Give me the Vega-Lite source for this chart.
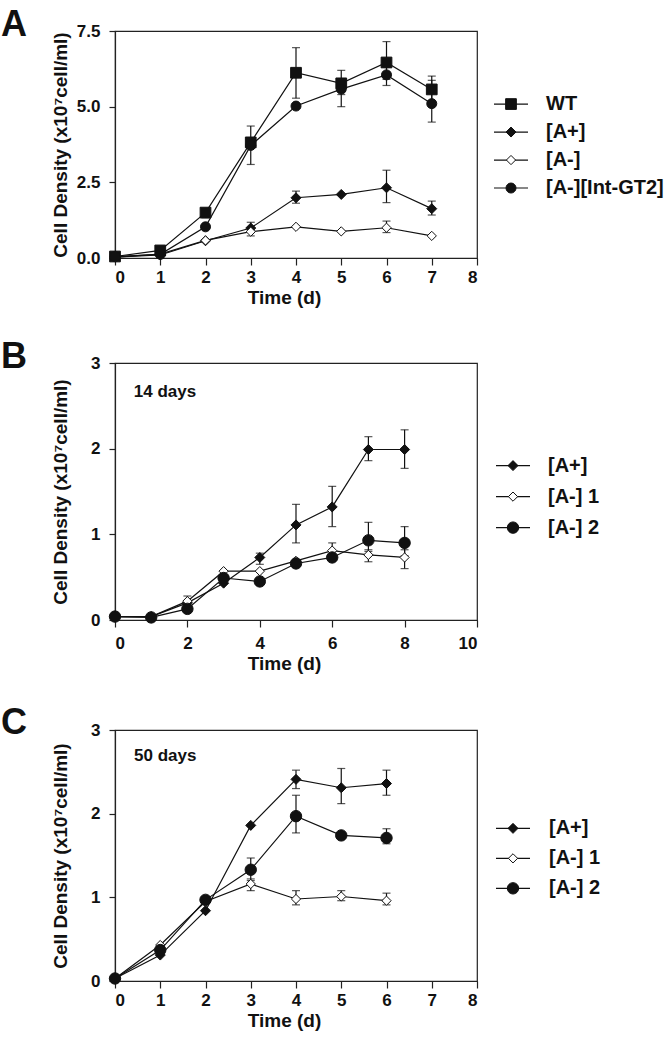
{
  "$schema": "https://vega.github.io/schema/vega-lite/v6.json",
  "background": "white",
  "padding": {"left": 0, "top": 6, "right": 0, "bottom": 0},
  "datasets": {
    "pts": [
      {"p":"A","s":"WT","d":0,"v":0.05},{"p":"A","s":"WT","d":1,"v":0.25},{"p":"A","s":"WT","d":2,"v":1.5},{"p":"A","s":"WT","d":3,"v":3.82},{"p":"A","s":"WT","d":4,"v":6.12},{"p":"A","s":"WT","d":5,"v":5.77},{"p":"A","s":"WT","d":6,"v":6.46},{"p":"A","s":"WT","d":7,"v":5.57},
      {"p":"A","s":"[A+]","d":0,"v":0.03},{"p":"A","s":"[A+]","d":1,"v":0.1},{"p":"A","s":"[A+]","d":2,"v":0.57},{"p":"A","s":"[A+]","d":3,"v":0.99},{"p":"A","s":"[A+]","d":4,"v":1.99},{"p":"A","s":"[A+]","d":5,"v":2.1},{"p":"A","s":"[A+]","d":6,"v":2.32},{"p":"A","s":"[A+]","d":7,"v":1.63},
      {"p":"A","s":"[A-]","d":0,"v":0.03},{"p":"A","s":"[A-]","d":1,"v":0.13},{"p":"A","s":"[A-]","d":2,"v":0.58},{"p":"A","s":"[A-]","d":3,"v":0.87},{"p":"A","s":"[A-]","d":4,"v":1.03},{"p":"A","s":"[A-]","d":5,"v":0.88},{"p":"A","s":"[A-]","d":6,"v":1.0},{"p":"A","s":"[A-]","d":7,"v":0.73},
      {"p":"A","s":"[A-][Int-GT2]","d":0,"v":0.05},{"p":"A","s":"[A-][Int-GT2]","d":1,"v":0.12},{"p":"A","s":"[A-][Int-GT2]","d":2,"v":1.03},{"p":"A","s":"[A-][Int-GT2]","d":3,"v":3.72},{"p":"A","s":"[A-][Int-GT2]","d":4,"v":5.02},{"p":"A","s":"[A-][Int-GT2]","d":5,"v":5.58},{"p":"A","s":"[A-][Int-GT2]","d":6,"v":6.05},{"p":"A","s":"[A-][Int-GT2]","d":7,"v":5.1},
      {"p":"B","s":"[A+]","d":0,"v":0.04},{"p":"B","s":"[A+]","d":1,"v":0.04},{"p":"B","s":"[A+]","d":2,"v":0.2},{"p":"B","s":"[A+]","d":3,"v":0.43},{"p":"B","s":"[A+]","d":4,"v":0.73},{"p":"B","s":"[A+]","d":5,"v":1.11},{"p":"B","s":"[A+]","d":6,"v":1.32},{"p":"B","s":"[A+]","d":7,"v":1.99},{"p":"B","s":"[A+]","d":8,"v":1.99},
      {"p":"B","s":"[A-] 1","d":0,"v":0.04},{"p":"B","s":"[A-] 1","d":1,"v":0.04},{"p":"B","s":"[A-] 1","d":2,"v":0.22},{"p":"B","s":"[A-] 1","d":3,"v":0.57},{"p":"B","s":"[A-] 1","d":4,"v":0.57},{"p":"B","s":"[A-] 1","d":5,"v":0.69},{"p":"B","s":"[A-] 1","d":6,"v":0.81},{"p":"B","s":"[A-] 1","d":7,"v":0.76},{"p":"B","s":"[A-] 1","d":8,"v":0.73},
      {"p":"B","s":"[A-] 2","d":0,"v":0.04},{"p":"B","s":"[A-] 2","d":1,"v":0.03},{"p":"B","s":"[A-] 2","d":2,"v":0.13},{"p":"B","s":"[A-] 2","d":3,"v":0.49},{"p":"B","s":"[A-] 2","d":4,"v":0.45},{"p":"B","s":"[A-] 2","d":5,"v":0.66},{"p":"B","s":"[A-] 2","d":6,"v":0.73},{"p":"B","s":"[A-] 2","d":7,"v":0.93},{"p":"B","s":"[A-] 2","d":8,"v":0.9},
      {"p":"C","s":"[A+]","d":0,"v":0.03},{"p":"C","s":"[A+]","d":1,"v":0.31},{"p":"C","s":"[A+]","d":2,"v":0.84},{"p":"C","s":"[A+]","d":3,"v":1.86},{"p":"C","s":"[A+]","d":4,"v":2.41},{"p":"C","s":"[A+]","d":5,"v":2.31},{"p":"C","s":"[A+]","d":6,"v":2.36},
      {"p":"C","s":"[A-] 1","d":0,"v":0.03},{"p":"C","s":"[A-] 1","d":1,"v":0.43},{"p":"C","s":"[A-] 1","d":2,"v":0.95},{"p":"C","s":"[A-] 1","d":3,"v":1.16},{"p":"C","s":"[A-] 1","d":4,"v":0.98},{"p":"C","s":"[A-] 1","d":5,"v":1.01},{"p":"C","s":"[A-] 1","d":6,"v":0.96},
      {"p":"C","s":"[A-] 2","d":0,"v":0.03},{"p":"C","s":"[A-] 2","d":1,"v":0.37},{"p":"C","s":"[A-] 2","d":2,"v":0.97},{"p":"C","s":"[A-] 2","d":3,"v":1.33},{"p":"C","s":"[A-] 2","d":4,"v":1.97},{"p":"C","s":"[A-] 2","d":5,"v":1.74},{"p":"C","s":"[A-] 2","d":6,"v":1.71}
    ],
    "err": [
      {"p":"A","s":"WT","d":2,"lo":1.33,"hi":1.6},{"p":"A","s":"WT","d":3,"lo":3.09,"hi":4.36},{"p":"A","s":"WT","d":4,"lo":5.28,"hi":6.95},{"p":"A","s":"WT","d":5,"lo":5.4,"hi":6.2},{"p":"A","s":"WT","d":6,"lo":5.9,"hi":7.15},{"p":"A","s":"WT","d":7,"lo":5.2,"hi":6.01},
      {"p":"A","s":"[A-][Int-GT2]","d":5,"lo":5.0,"hi":5.8},{"p":"A","s":"[A-][Int-GT2]","d":6,"lo":5.7,"hi":6.3},{"p":"A","s":"[A-][Int-GT2]","d":7,"lo":4.49,"hi":5.87},
      {"p":"A","s":"[A+]","d":3,"lo":0.85,"hi":1.18},{"p":"A","s":"[A+]","d":4,"lo":1.81,"hi":2.21},{"p":"A","s":"[A+]","d":6,"lo":1.83,"hi":2.9},{"p":"A","s":"[A+]","d":7,"lo":1.42,"hi":1.88},
      {"p":"A","s":"[A-]","d":3,"lo":0.73,"hi":0.95},{"p":"A","s":"[A-]","d":6,"lo":0.84,"hi":1.22},
      {"p":"B","s":"[A+]","d":4,"lo":0.65,"hi":0.78},{"p":"B","s":"[A+]","d":5,"lo":0.9,"hi":1.35},{"p":"B","s":"[A+]","d":6,"lo":1.09,"hi":1.56},{"p":"B","s":"[A+]","d":7,"lo":1.86,"hi":2.14},{"p":"B","s":"[A+]","d":8,"lo":1.77,"hi":2.22},
      {"p":"B","s":"[A-] 1","d":2,"lo":0.15,"hi":0.28},{"p":"B","s":"[A-] 1","d":6,"lo":0.74,"hi":0.9},{"p":"B","s":"[A-] 1","d":7,"lo":0.68,"hi":0.82},{"p":"B","s":"[A-] 1","d":8,"lo":0.6,"hi":0.82},
      {"p":"B","s":"[A-] 2","d":7,"lo":0.8,"hi":1.14},{"p":"B","s":"[A-] 2","d":8,"lo":0.75,"hi":1.09},
      {"p":"C","s":"[A+]","d":4,"lo":2.3,"hi":2.52},{"p":"C","s":"[A+]","d":5,"lo":2.12,"hi":2.54},{"p":"C","s":"[A+]","d":6,"lo":2.22,"hi":2.52},
      {"p":"C","s":"[A-] 2","d":3,"lo":1.2,"hi":1.47},{"p":"C","s":"[A-] 2","d":4,"lo":1.77,"hi":2.22},{"p":"C","s":"[A-] 2","d":6,"lo":1.64,"hi":1.82},
      {"p":"C","s":"[A-] 1","d":3,"lo":1.08,"hi":1.22},{"p":"C","s":"[A-] 1","d":4,"lo":0.91,"hi":1.08},{"p":"C","s":"[A-] 1","d":5,"lo":0.96,"hi":1.08},{"p":"C","s":"[A-] 1","d":6,"lo":0.91,"hi":1.05}
    ],
    "leg": [
      {"p":"A","s":"WT","o":0},{"p":"A","s":"[A+]","o":1},{"p":"A","s":"[A-]","o":2},{"p":"A","s":"[A-][Int-GT2]","o":3},
      {"p":"B","s":"[A+]","o":0},{"p":"B","s":"[A-] 1","o":1},{"p":"B","s":"[A-] 2","o":2},
      {"p":"C","s":"[A+]","o":0},{"p":"C","s":"[A-] 1","o":1},{"p":"C","s":"[A-] 2","o":2}
    ]
  },
  "config": {
    "font": "Liberation Sans",
    "view": {"stroke": "#222", "strokeWidth": 1.2},
    "axis": {"domainColor": "#222", "domainWidth": 1.2, "tickColor": "#222", "tickWidth": 1.2, "grid": false,
      "labelFont": "Liberation Sans", "labelFontSize": 17, "labelFontWeight": "bold", "labelColor": "#111",
      "titleFont": "Liberation Sans", "titleFontSize": 19, "titleFontWeight": "bold", "titleColor": "#111"},
    "axisX": {"tickSize": 7, "labelPadding": 4, "titlePadding": 3, "titleX": 169, "titleAlign": "center"},
    "axisY": {"tickSize": 6, "labelPadding": 9},
    "title": {"anchor": "start", "frame": "group", "fontSize": 36, "fontWeight": "bold", "font": "Liberation Sans", "color": "#111", "dx": -114, "offset": -22, "baseline": "alphabetic"}
  },
  "vconcat": [
    {
      "hconcat": [
        {
          "width": 362, "height": 227,
          "title": {"text": "A"},
          "layer": [
            {"data": {"name": "pts"}, "transform": [{"filter": "datum.p==='A'"}],
             "mark": {"type": "line", "color": "#111", "strokeWidth": 1.2},
             "encoding": {"x": {"field": "d", "type": "quantitative", "title": "Time (d)", "scale": {"domain": [0, 8], "nice": false}, "axis": {"values": [0,1,2,3,4,5,6,7,8]}},
               "y": {"field": "v", "type": "quantitative", "title": "Cell Density (x10⁷cell/ml)", "scale": {"domain": [0, 7.5], "nice": false}, "axis": {"values": [0, 2.5, 5, 7.5], "format": ".1f", "titlePadding": 6}},
               "detail": {"field": "s"}}},
            {"data": {"name": "err"}, "transform": [{"filter": "datum.p==='A'"}],
             "mark": {"type": "rule", "color": "#111", "strokeWidth": 1.2},
             "encoding": {"x": {"field": "d", "type": "quantitative"}, "y": {"field": "lo", "type": "quantitative"}, "y2": {"field": "hi"}}},
            {"data": {"name": "err"}, "transform": [{"filter": "datum.p==='A'"}],
             "mark": {"type": "tick", "orient": "horizontal", "color": "#111", "size": 8, "thickness": 1.2},
             "encoding": {"x": {"field": "d", "type": "quantitative"}, "y": {"field": "lo", "type": "quantitative"}}},
            {"data": {"name": "err"}, "transform": [{"filter": "datum.p==='A'"}],
             "mark": {"type": "tick", "orient": "horizontal", "color": "#111", "size": 8, "thickness": 1.2},
             "encoding": {"x": {"field": "d", "type": "quantitative"}, "y": {"field": "hi", "type": "quantitative"}}},
            {"data": {"name": "pts"}, "transform": [{"filter": "datum.p==='A'"}],
             "mark": {"type": "point", "filled": true, "stroke": "#111", "strokeWidth": 1, "opacity": 1},
             "encoding": {"x": {"field": "d", "type": "quantitative"}, "y": {"field": "v", "type": "quantitative"},
               "shape": {"field": "s", "type": "nominal", "legend": null, "scale": {"domain": ["WT","[A+]","[A-]","[A-][Int-GT2]","[A-] 1","[A-] 2"], "range": ["square","diamond","diamond","circle","diamond","circle"]}},
               "fill": {"condition": {"test": "datum.s==='[A-]' || datum.s==='[A-] 1'", "value": "white"}, "value": "#111"},
               "size": {"condition": [{"test": "datum.s==='WT'", "value": 115}, {"test": "datum.s==='[A-] 2'", "value": 130}, {"test": "datum.s==='[A-]' || datum.s==='[A-] 1'", "value": 85}], "value": 100}}}
          ]
        },
        {
          "width": 160, "height": 227, "view": {"stroke": null},
          "data": {"name": "leg"}, "transform": [{"filter": "datum.p==='A'"}],
          "layer": [
            {"mark": {"type": "rule", "color": "#111", "strokeWidth": 1.2},
             "encoding": {"x": {"datum": 1, "type": "quantitative", "scale": {"domain": [0, 160], "nice": false}, "axis": null}, "x2": {"datum": 35},
               "y": {"field": "o", "type": "quantitative", "axis": null, "scale": {"domain": [-2.61, 5.5], "nice": false, "zero": false, "reverse": true}}}},
            {"mark": {"type": "point", "filled": true, "stroke": "#111", "strokeWidth": 1, "opacity": 1},
             "encoding": {"x": {"datum": 18, "type": "quantitative"}, "y": {"field": "o", "type": "quantitative"},
               "shape": {"field": "s", "type": "nominal", "legend": null, "scale": {"domain": ["WT","[A+]","[A-]","[A-][Int-GT2]","[A-] 1","[A-] 2"], "range": ["square","diamond","diamond","circle","diamond","circle"]}},
               "fill": {"condition": {"test": "datum.s==='[A-]' || datum.s==='[A-] 1'", "value": "white"}, "value": "#111"},
               "size": {"condition": [{"test": "datum.s==='WT'", "value": 115}, {"test": "datum.s==='[A-] 2'", "value": 130}, {"test": "datum.s==='[A-]' || datum.s==='[A-] 1'", "value": 85}], "value": 100}}},
            {"mark": {"type": "text", "align": "left", "baseline": "middle", "fontSize": 20, "fontWeight": "bold", "color": "#111"},
             "encoding": {"x": {"datum": 53, "type": "quantitative"}, "y": {"field": "o", "type": "quantitative"}, "text": {"field": "s"}}}
          ]
        }
      ],
      "bounds": "flush", "spacing": 16
    },
    {
      "hconcat": [
        {
          "width": 362, "height": 257,
          "title": {"text": "B"},
          "layer": [
            {"data": {"name": "pts"}, "transform": [{"filter": "datum.p==='B'"}],
             "mark": {"type": "line", "color": "#111", "strokeWidth": 1.2},
             "encoding": {"x": {"field": "d", "type": "quantitative", "title": "Time (d)", "scale": {"domain": [0, 10], "nice": false}, "axis": {"values": [0,2,4,6,8,10], "labelPadding": 8}},
               "y": {"field": "v", "type": "quantitative", "title": "Cell Density (x10⁷cell/ml)", "scale": {"domain": [0, 3], "nice": false}, "axis": {"values": [0,1,2,3], "format": "d", "titlePadding": 20}},
               "detail": {"field": "s"}}},
            {"data": {"name": "err"}, "transform": [{"filter": "datum.p==='B'"}],
             "mark": {"type": "rule", "color": "#111", "strokeWidth": 1.2},
             "encoding": {"x": {"field": "d", "type": "quantitative"}, "y": {"field": "lo", "type": "quantitative"}, "y2": {"field": "hi"}}},
            {"data": {"name": "err"}, "transform": [{"filter": "datum.p==='B'"}],
             "mark": {"type": "tick", "orient": "horizontal", "color": "#111", "size": 8, "thickness": 1.2},
             "encoding": {"x": {"field": "d", "type": "quantitative"}, "y": {"field": "lo", "type": "quantitative"}}},
            {"data": {"name": "err"}, "transform": [{"filter": "datum.p==='B'"}],
             "mark": {"type": "tick", "orient": "horizontal", "color": "#111", "size": 8, "thickness": 1.2},
             "encoding": {"x": {"field": "d", "type": "quantitative"}, "y": {"field": "hi", "type": "quantitative"}}},
            {"data": {"name": "pts"}, "transform": [{"filter": "datum.p==='B'"}],
             "mark": {"type": "point", "filled": true, "stroke": "#111", "strokeWidth": 1, "opacity": 1},
             "encoding": {"x": {"field": "d", "type": "quantitative"}, "y": {"field": "v", "type": "quantitative"},
               "shape": {"field": "s", "type": "nominal", "legend": null, "scale": {"domain": ["WT","[A+]","[A-]","[A-][Int-GT2]","[A-] 1","[A-] 2"], "range": ["square","diamond","diamond","circle","diamond","circle"]}},
               "fill": {"condition": {"test": "datum.s==='[A-]' || datum.s==='[A-] 1'", "value": "white"}, "value": "#111"},
               "size": {"condition": [{"test": "datum.s==='WT'", "value": 115}, {"test": "datum.s==='[A-] 2'", "value": 130}, {"test": "datum.s==='[A-]' || datum.s==='[A-] 1'", "value": 85}], "value": 100}}},
            {"data": {"values": [{"t": "14 days"}]},
             "mark": {"type": "text", "align": "left", "baseline": "middle", "fontSize": 17, "fontWeight": "bold", "color": "#111"},
             "encoding": {"x": {"datum": 0.52, "type": "quantitative"}, "y": {"datum": 2.66, "type": "quantitative"}, "text": {"field": "t"}}}
          ]
        },
        {
          "width": 160, "height": 257, "view": {"stroke": null},
          "data": {"name": "leg"}, "transform": [{"filter": "datum.p==='B'"}],
          "layer": [
            {"mark": {"type": "rule", "color": "#111", "strokeWidth": 1.2},
             "encoding": {"x": {"datum": 3, "type": "quantitative", "scale": {"domain": [0, 160], "nice": false}, "axis": null}, "x2": {"datum": 37},
               "y": {"field": "o", "type": "quantitative", "axis": null, "scale": {"domain": [-3.31, 4.98], "nice": false, "zero": false, "reverse": true}}}},
            {"mark": {"type": "point", "filled": true, "stroke": "#111", "strokeWidth": 1, "opacity": 1},
             "encoding": {"x": {"datum": 20, "type": "quantitative"}, "y": {"field": "o", "type": "quantitative"},
               "shape": {"field": "s", "type": "nominal", "legend": null, "scale": {"domain": ["WT","[A+]","[A-]","[A-][Int-GT2]","[A-] 1","[A-] 2"], "range": ["square","diamond","diamond","circle","diamond","circle"]}},
               "fill": {"condition": {"test": "datum.s==='[A-]' || datum.s==='[A-] 1'", "value": "white"}, "value": "#111"},
               "size": {"condition": [{"test": "datum.s==='WT'", "value": 115}, {"test": "datum.s==='[A-] 2'", "value": 130}, {"test": "datum.s==='[A-]' || datum.s==='[A-] 1'", "value": 85}], "value": 100}}},
            {"mark": {"type": "text", "align": "left", "baseline": "middle", "fontSize": 20, "fontWeight": "bold", "color": "#111"},
             "encoding": {"x": {"datum": 55, "type": "quantitative"}, "y": {"field": "o", "type": "quantitative"}, "text": {"field": "s"}}}
          ]
        }
      ],
      "bounds": "flush", "spacing": 16
    },
    {
      "hconcat": [
        {
          "width": 362, "height": 251,
          "title": {"text": "C", "offset": -21},
          "layer": [
            {"data": {"name": "pts"}, "transform": [{"filter": "datum.p==='C'"}],
             "mark": {"type": "line", "color": "#111", "strokeWidth": 1.2},
             "encoding": {"x": {"field": "d", "type": "quantitative", "title": "Time (d)", "scale": {"domain": [0, 8], "nice": false}, "axis": {"values": [0,1,2,3,4,5,6,7,8]}},
               "y": {"field": "v", "type": "quantitative", "title": "Cell Density (x10⁷cell/ml)", "scale": {"domain": [0, 3], "nice": false}, "axis": {"values": [0,1,2,3], "format": "d", "titlePadding": 20}},
               "detail": {"field": "s"}}},
            {"data": {"name": "err"}, "transform": [{"filter": "datum.p==='C'"}],
             "mark": {"type": "rule", "color": "#111", "strokeWidth": 1.2},
             "encoding": {"x": {"field": "d", "type": "quantitative"}, "y": {"field": "lo", "type": "quantitative"}, "y2": {"field": "hi"}}},
            {"data": {"name": "err"}, "transform": [{"filter": "datum.p==='C'"}],
             "mark": {"type": "tick", "orient": "horizontal", "color": "#111", "size": 8, "thickness": 1.2},
             "encoding": {"x": {"field": "d", "type": "quantitative"}, "y": {"field": "lo", "type": "quantitative"}}},
            {"data": {"name": "err"}, "transform": [{"filter": "datum.p==='C'"}],
             "mark": {"type": "tick", "orient": "horizontal", "color": "#111", "size": 8, "thickness": 1.2},
             "encoding": {"x": {"field": "d", "type": "quantitative"}, "y": {"field": "hi", "type": "quantitative"}}},
            {"data": {"name": "pts"}, "transform": [{"filter": "datum.p==='C'"}],
             "mark": {"type": "point", "filled": true, "stroke": "#111", "strokeWidth": 1, "opacity": 1},
             "encoding": {"x": {"field": "d", "type": "quantitative"}, "y": {"field": "v", "type": "quantitative"},
               "shape": {"field": "s", "type": "nominal", "legend": null, "scale": {"domain": ["WT","[A+]","[A-]","[A-][Int-GT2]","[A-] 1","[A-] 2"], "range": ["square","diamond","diamond","circle","diamond","circle"]}},
               "fill": {"condition": {"test": "datum.s==='[A-]' || datum.s==='[A-] 1'", "value": "white"}, "value": "#111"},
               "size": {"condition": [{"test": "datum.s==='WT'", "value": 115}, {"test": "datum.s==='[A-] 2'", "value": 130}, {"test": "datum.s==='[A-]' || datum.s==='[A-] 1'", "value": 85}], "value": 100}}},
            {"data": {"values": [{"t": "50 days"}]},
             "mark": {"type": "text", "align": "left", "baseline": "middle", "fontSize": 17, "fontWeight": "bold", "color": "#111"},
             "encoding": {"x": {"datum": 0.42, "type": "quantitative"}, "y": {"datum": 2.69, "type": "quantitative"}, "text": {"field": "t"}}}
          ]
        },
        {
          "width": 160, "height": 251, "view": {"stroke": null},
          "data": {"name": "leg"}, "transform": [{"filter": "datum.p==='C'"}],
          "layer": [
            {"mark": {"type": "rule", "color": "#111", "strokeWidth": 1.2},
             "encoding": {"x": {"datum": 3, "type": "quantitative", "scale": {"domain": [0, 160], "nice": false}, "axis": null}, "x2": {"datum": 37},
               "y": {"field": "o", "type": "quantitative", "axis": null, "scale": {"domain": [-3.28, 5.09], "nice": false, "zero": false, "reverse": true}}}},
            {"mark": {"type": "point", "filled": true, "stroke": "#111", "strokeWidth": 1, "opacity": 1},
             "encoding": {"x": {"datum": 20, "type": "quantitative"}, "y": {"field": "o", "type": "quantitative"},
               "shape": {"field": "s", "type": "nominal", "legend": null, "scale": {"domain": ["WT","[A+]","[A-]","[A-][Int-GT2]","[A-] 1","[A-] 2"], "range": ["square","diamond","diamond","circle","diamond","circle"]}},
               "fill": {"condition": {"test": "datum.s==='[A-]' || datum.s==='[A-] 1'", "value": "white"}, "value": "#111"},
               "size": {"condition": [{"test": "datum.s==='WT'", "value": 115}, {"test": "datum.s==='[A-] 2'", "value": 130}, {"test": "datum.s==='[A-]' || datum.s==='[A-] 1'", "value": 85}], "value": 100}}},
            {"mark": {"type": "text", "align": "left", "baseline": "middle", "fontSize": 20, "fontWeight": "bold", "color": "#111"},
             "encoding": {"x": {"datum": 56, "type": "quantitative"}, "y": {"field": "o", "type": "quantitative"}, "text": {"field": "s"}}}
          ]
        }
      ],
      "bounds": "flush", "spacing": 16
    }
  ],
  "spacing": 30
}
